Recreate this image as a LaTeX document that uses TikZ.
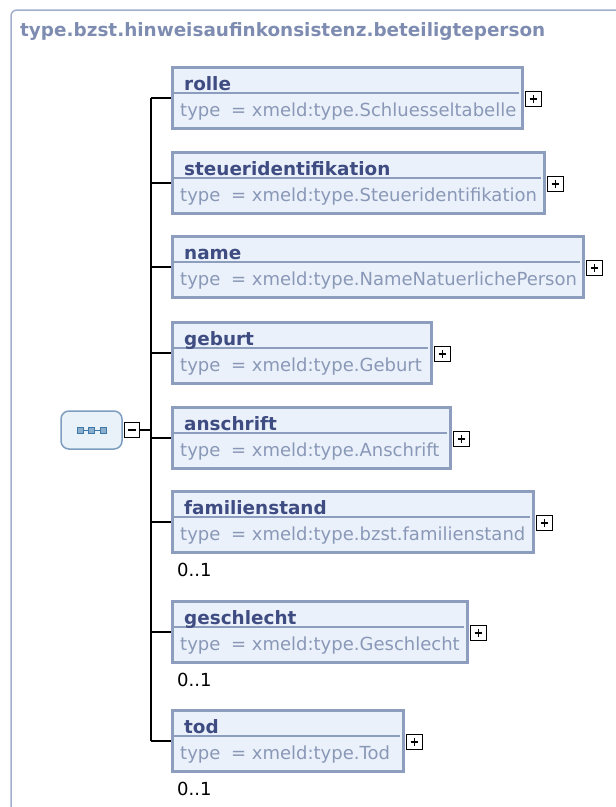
\documentclass[tikz,border=0pt]{standalone}
\usepackage{fontspec}
\setmainfont{DejaVu Sans}
\definecolor{elborder}{RGB}{141,157,190}
\definecolor{elfill}{RGB}{234,241,250}
\definecolor{namec}{RGB}{62,76,130}
\definecolor{typec}{RGB}{138,152,184}
\definecolor{titlec}{RGB}{125,140,176}
\definecolor{framec}{RGB}{160,175,203}
\definecolor{seqborder}{RGB}{126,158,192}
\definecolor{seqfill}{RGB}{233,241,249}
\definecolor{seqicon}{RGB}{60,120,170}
% one child element: name, top edge, width, label, type
\newcommand{\xelem}[5]{%
  \node[elbox, minimum width=#3pt] (#1) at (171,#2) {};
  \draw[elsep] ([xshift=1pt,yshift=-27pt]#1.north west) -- ([xshift=-5pt,yshift=-27pt]#1.north east);
  \node[elname] at ([xshift=13pt,yshift=-24pt]#1.north west) {#4};
  \node[eltype] at ([xshift=9pt,yshift=-50pt]#1.north west) {type\hspace{5pt} = xmeld:type.#5};
  \node[plusbox] (#1plus) at ([xshift=1pt,yshift=-1pt]#1.east) {};
  \draw[conn] (fork |- #1.west) -- (#1.west);
}

\begin{document}
\begin{tikzpicture}[x=1pt,y=-1pt,
  elbox/.style={draw=elborder, line width=3pt, fill=elfill, anchor=north west,
    minimum height=61pt, inner sep=0pt},
  elsep/.style={draw=elborder, line width=1.2pt},
  elname/.style={anchor=base west, inner sep=0pt, text=namec,
    font=\fontsize{18.4}{20}\selectfont\bfseries},
  eltype/.style={anchor=base west, inner sep=0pt, text=typec,
    font=\fontsize{18}{20}\selectfont},
  occurs/.style={anchor=base west, inner sep=0pt, font=\fontsize{18}{20}\selectfont},
  conn/.style={line width=1.8pt},
  plusbox/.style={draw, line width=1.3pt, fill=white, minimum size=15.5pt, inner sep=0pt,
    anchor=west, path picture={
      \draw[line width=1.7pt] ([xshift=-3.7pt]path picture bounding box.center) -- ++(7.4pt,0);
      \draw[line width=1.7pt] ([yshift=-3.7pt]path picture bounding box.center) -- ++(0,7.4pt);}},
  minusbox/.style={draw, line width=1.3pt, fill=white, minimum size=15.5pt, inner sep=0pt,
    path picture={
      \draw[line width=1.7pt] ([xshift=-3.7pt]path picture bounding box.center) -- ++(7.4pt,0);}},
  seqbox/.style={draw=seqborder, fill=seqfill, line width=1.5pt, rounded corners=8pt,
    minimum width=61pt, minimum height=38pt, inner sep=0pt}]
  \useasboundingbox (0,0) rectangle (616,807);
  \clip (0,0) rectangle (616,807);
  % frame and title
  \draw[framec, line width=1.5pt, rounded corners=6pt] (11,900) |- (700,10);
  \node[anchor=base west, inner sep=0pt, text=titlec,
    font=\fontsize{18.4}{20}\selectfont\bfseries] (title) at (20,36)
    {type.bzst.hinweisaufinkonsistenz.beteiligteperson};
  % sequence compositor
  \node[seqbox] (seq) at (91.5,430) {};
  \draw[seqicon, line width=1pt] ([xshift=-11.5pt]seq.center) -- ([xshift=11.5pt]seq.center);
  \draw[seqicon, fill=seqicon!60, line width=0.8pt] ([xshift=-14.5pt,yshift=3pt]seq.center) rectangle ++(6pt,-6pt);
  \draw[seqicon, fill=seqicon!60, line width=0.8pt] ([xshift=-3pt,yshift=3pt]seq.center) rectangle ++(6pt,-6pt);
  \draw[seqicon, fill=seqicon!60, line width=0.8pt] ([xshift=8.5pt,yshift=3pt]seq.center) rectangle ++(6pt,-6pt);
  \node[minusbox] (seqminus) at (132,430) {};
  \coordinate (fork) at (151,430);
  \draw[conn] (seqminus.east) -- (fork);
  % children
  \xelem{rolle}{66}{350}{rolle}{Schluesseltabelle}
  \xelem{steuerid}{151}{372}{steueridentifikation}{Steueridentifikation}
  \xelem{name}{235}{411}{name}{NameNatuerlichePerson}
  \xelem{geburt}{321}{259}{geburt}{Geburt}
  \xelem{anschrift}{406}{278}{anschrift}{Anschrift}
  \xelem{familienstand}{490}{361}{familienstand}{bzst.familienstand}
  \xelem{geschlecht}{600}{295}{geschlecht}{Geschlecht}
  \xelem{tod}{709}{231}{tod}{Tod}
  \draw[conn] (fork |- rolle.west) -- (fork |- tod.west);
  % occurrences
  \node[occurs] at ([xshift=6pt,yshift=-22pt]familienstand.south west) {0..1};
  \node[occurs] at ([xshift=6pt,yshift=-22pt]geschlecht.south west) {0..1};
  \node[occurs] at ([xshift=6pt,yshift=-22pt]tod.south west) {0..1};
\end{tikzpicture}
\end{document}
